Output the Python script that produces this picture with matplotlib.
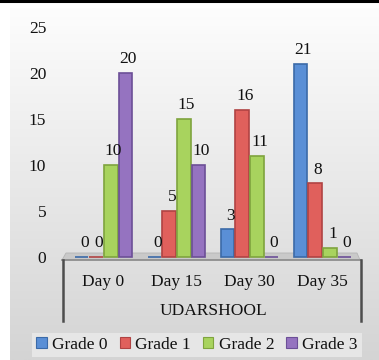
import matplotlib
matplotlib.use("Agg")
import matplotlib.pyplot as plt
import numpy as np
from matplotlib.patches import Rectangle, Polygon
from matplotlib.lines import Line2D
from matplotlib.colors import LinearSegmentedColormap

categories = ["Day 0", "Day 15", "Day 30", "Day 35"]
series_names = ["Grade 0", "Grade 1", "Grade 2", "Grade 3"]
grade0 = [0, 0, 3, 21]
grade1 = [0, 5, 16, 8]
grade2 = [10, 15, 11, 1]
grade3 = [20, 10, 0, 0]
y_ticks = [0, 5, 10, 15, 20, 25]
group_label = "UDARSHOOL"

faces = ["#5a8fd6", "#e0605c", "#a8d35e", "#9573c0"]
edges = ["#3b6aa8", "#b04343", "#7fa43e", "#6c4f97"]

plt.rcParams['font.family'] = ['Liberation Serif', 'DejaVu Serif']
FS = 12.5
TC = "#111111"
W, H = 379, 360
fig = plt.figure(figsize=(W / 100, H / 100), dpi=100)

# background gradient panel
bg = fig.add_axes([10 / W, 0, 1 - 10 / W, (H - 8) / H], zorder=-10)
grad = np.linspace(0, 1, 256).reshape(-1, 1)
cmap = LinearSegmentedColormap.from_list("g", ["#d4d4d4", "#fdfdfd"])
bg.imshow(grad, aspect="auto", cmap=cmap, origin="lower", extent=[0, 1, 0, 1])
bg.set_axis_off()

# top black line
fig.add_artist(Line2D([0, 1], [1 - 1 / H, 1 - 1 / H], color="black", lw=2.2, transform=fig.transFigure))

# floor platform (behind bars)
floor = Polygon([(62 / W, (H - 260) / H), (360 / W, (H - 260) / H), (357 / W, (H - 253) / H), (66 / W, (H - 253) / H)],
                closed=True, transform=fig.transFigure, facecolor="#c9c9c9", edgecolor="#b5b5b5", lw=0.6, zorder=-5)
fig.add_artist(floor)

left, right = 67, 359
y0, y25 = 257, 27
ax = fig.add_axes([left / W, (H - y0) / H, (right - left) / W, (y0 - y25) / H])
ax.set_facecolor("none")
x = np.arange(len(categories))
data = [grade0, grade1, grade2, grade3]
width = 0.2
for i, vals in enumerate(data):
    pos = x + (i - 1.5) * width
    ax.bar(pos, vals, width=width * 0.92, color=faces[i], edgecolor=edges[i], linewidth=1.2,
           label=series_names[i], zorder=3, clip_on=False)
    for p, v in zip(pos, vals):
        ax.annotate(str(v), (p, v), xytext=(2, 4), textcoords="offset points",
                    ha="center", va="bottom", fontsize=FS, color=TC, zorder=4)

ax.set_xlim(-0.5, len(categories) - 0.5)
ax.set_ylim(0, 25)
ax.set_yticks(y_ticks)
ax.set_yticklabels([str(t) for t in y_ticks], fontsize=FS, color=TC)
ax.tick_params(axis="y", length=0, pad=15)
ax.set_xticks(x)
ax.set_xticklabels(categories, fontsize=FS, color=TC)
ax.tick_params(axis="x", length=0, pad=12)
for s in ax.spines.values():
    s.set_visible(False)

fig.add_artist(Line2D([62 / W, 361 / W], [(H - 260) / H] * 2, color="#8a8a8a", lw=1.2, transform=fig.transFigure))

# category box lines
for px in (63, 361):
    fig.add_artist(Line2D([px / W, px / W], [(H - 260) / H, (H - 321) / H], color="#4d4d4d", lw=1.8,
                          transform=fig.transFigure))
fig.text((left + right) / 2 / W, (H - 311) / H, group_label, ha="center", va="center", fontsize=FS, color=TC)

handles = [Rectangle((0, 0), 1, 1, facecolor=faces[i], edgecolor=edges[i], lw=0.8) for i in range(4)]
leg = fig.legend(handles, series_names, loc="center", bbox_to_anchor=(197 / W, (H - 345) / H), ncol=4,
                 fontsize=FS, frameon=True, fancybox=False, handlelength=0.6, handleheight=0.6,
                 handletextpad=0.3, columnspacing=0.7, borderpad=0.25, borderaxespad=0)
leg.get_frame().set_facecolor("#e6e6e6")
leg.get_frame().set_edgecolor("none")
leg.get_frame().set_alpha(1)
for t in leg.get_texts():
    t.set_color(TC)

fig.savefig("out.png", dpi=100)
